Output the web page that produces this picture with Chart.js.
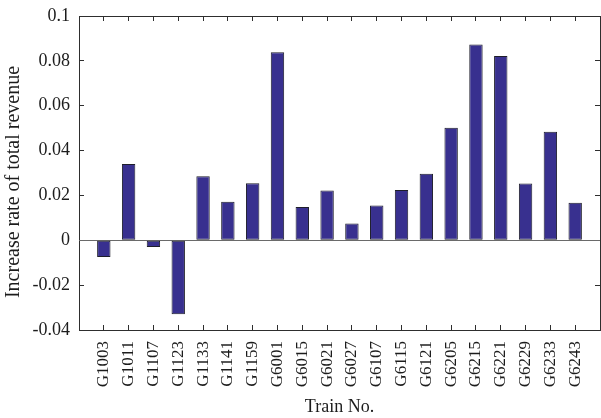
<!DOCTYPE html>
<html>
<head>
<meta charset="utf-8">
<script src="https://cdn.jsdelivr.net/npm/chart.js@4/dist/chart.umd.min.js"></script>
<style>
  html, body { margin: 0; padding: 0; background: #ffffff; }
  #wrap { width: 601px; height: 418px; }
</style>
</head>
<body>
<div id="wrap"><canvas id="chart" width="601" height="418"></canvas></div>
<script>
// Train numbers along the horizontal axis
const trainNumbers = [
  'G1003', 'G1011', 'G1107', 'G1123', 'G1133', 'G1141', 'G1159', 'G6001', 'G6015', 'G6021',
  'G6027', 'G6107', 'G6115', 'G6121', 'G6205', 'G6215', 'G6221', 'G6229', 'G6233', 'G6243'
];

// Increase rate of total revenue for each train
const revenueIncrease = [
  -0.0075, 0.034, -0.003, -0.033, 0.0286, 0.0172, 0.0254, 0.0838, 0.0148, 0.0222,
  0.0075, 0.0155, 0.0224, 0.0297, 0.0502, 0.0873, 0.0822, 0.0253, 0.0484, 0.0167
];

// Value ticks on the vertical axis
const yTickValues = [-0.04, -0.02, 0, 0.02, 0.04, 0.06, 0.08, 0.1];

const FONT = '"Liberation Serif", "Times New Roman", serif';
const TEXT = '#1c1c1c';
const FRAME_COLOR = '#2e2e2e';

// Shared look for the four sides of the box: a solid border with short inward tick marks
const boxSide = {
  border: { display: true, color: FRAME_COLOR, width: 1 },
  grid: { display: true, offset: false, drawOnChartArea: false, drawTicks: true, tickLength: -5, color: FRAME_COLOR, lineWidth: 1 }
};
const categoryTicks = s => { s.ticks = trainNumbers.map((n, i) => ({ value: i + 1 })); };
const valueTicks = s => { s.ticks = yTickValues.map(v => ({ value: v })); };

// Zero baseline under the bars and the value-axis title
const extrasPlugin = {
  id: 'extras',
  beforeDatasetsDraw(chart) {
    const { ctx, chartArea: a } = chart;
    const y0 = Math.round(chart.scales.y.getPixelForValue(0));
    ctx.save();
    ctx.fillStyle = '#6a6a6a';
    ctx.fillRect(a.left, y0, a.right - a.left, 1);
    ctx.restore();
  },
  afterDraw(chart) {
    const { ctx, chartArea: a } = chart;
    ctx.save();
    ctx.fillStyle = TEXT;
    ctx.font = '20px ' + FONT;
    ctx.textAlign = 'center';
    ctx.textBaseline = 'middle';
    ctx.translate(14, (a.top + a.bottom) / 2 + 9);
    ctx.rotate(-Math.PI / 2);
    ctx.fillText('Increase rate of total revenue', 0, 0);
    ctx.restore();
  }
};

new Chart(document.getElementById('chart'), {
  type: 'bar',
  data: {
    datasets: [{
      data: trainNumbers.map((name, i) => ({ x: i + 1, y: revenueIncrease[i] })),
      backgroundColor: '#38308f',
      borderColor: '#1e1e2a',
      borderWidth: 1,
      borderSkipped: false,
      categoryPercentage: 1,
      barPercentage: 0.54
    }]
  },
  options: {
    responsive: false,
    animation: false,
    devicePixelRatio: 1,
    layout: { padding: { top: 16, right: 1, left: 0, bottom: 0 } },
    plugins: { legend: { display: false }, tooltip: { enabled: false } },
    scales: {
      x: {
        type: 'linear',
        position: 'bottom',
        offset: false,
        min: 0,
        max: 21,
        afterBuildTicks: categoryTicks,
        afterFit: s => { s.height = 88; s.paddingLeft = 0; s.paddingRight = 0; },
        ...boxSide,
        ticks: {
          autoSkip: false,
          minRotation: 90,
          maxRotation: 90,
          padding: 16,
          color: TEXT,
          font: { family: FONT, size: 17 },
          callback: v => trainNumbers[v - 1]
        },
        title: {
          display: true,
          text: 'Train No.',
          color: TEXT,
          font: { family: FONT, size: 18 },
          padding: { top: 0, bottom: 0 }
        }
      },
      xTop: {
        type: 'linear',
        position: 'top',
        offset: false,
        min: 0,
        max: 21,
        afterBuildTicks: categoryTicks,
        afterFit: s => { s.height = 0; s.paddingLeft = 0; s.paddingRight = 0; },
        ...boxSide,
        ticks: { display: false }
      },
      y: {
        position: 'left',
        min: -0.04,
        max: 0.1,
        afterBuildTicks: valueTicks,
        afterFit: s => { s.width = 79; s.paddingTop = 0; s.paddingBottom = 0; },
        ...boxSide,
        ticks: {
          padding: 14,
          color: TEXT,
          font: { family: FONT, size: 18 },
          callback: v => String(Math.round(v * 100) / 100)
        }
      },
      yRight: {
        type: 'linear',
        position: 'right',
        min: -0.04,
        max: 0.1,
        afterBuildTicks: valueTicks,
        afterFit: s => { s.width = 0; s.paddingTop = 0; s.paddingBottom = 0; },
        ...boxSide,
        ticks: { display: false }
      }
    }
  },
  plugins: [extrasPlugin]
});
</script>
</body>
</html>
